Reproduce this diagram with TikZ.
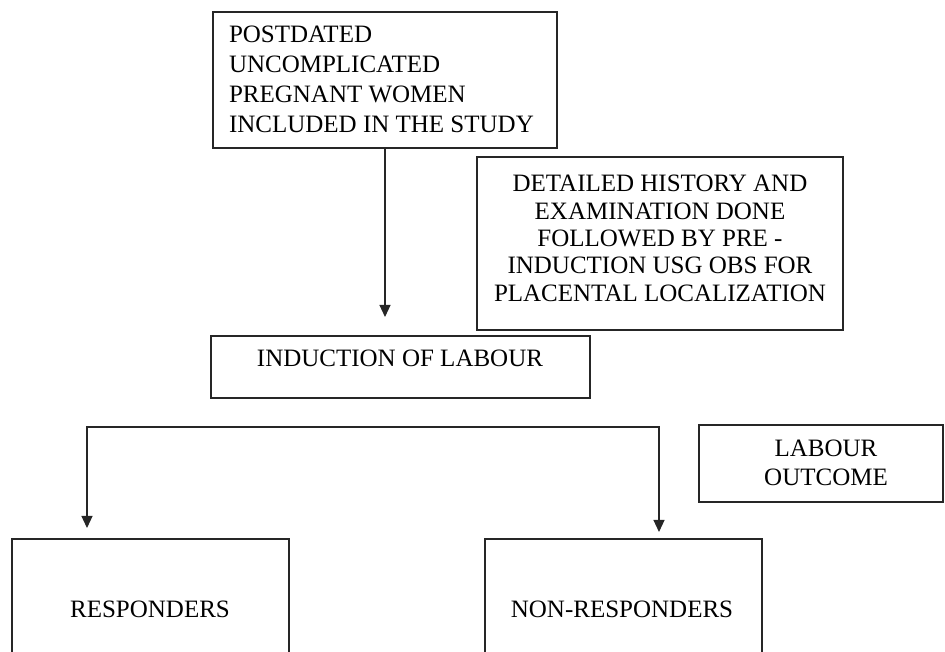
\documentclass[tikz,border=0pt]{standalone}
\usepackage{fontspec}
\setmainfont{Liberation Serif}
\usetikzlibrary{arrows.meta}
\newcommand\ctext[2]{\vtop{\baselineskip=#1\halign{\hfil##\hfil\cr#2\crcr}}}
\newcommand\ltext[2]{\vtop{\baselineskip=#1\halign{##\hfil\cr#2\crcr}}}
\tikzset{
  box/.style={draw=black!85, line width=1.2pt, inner sep=0pt, outer sep=0pt, fill=none},
  txt/.style={inner sep=0pt, outer sep=0pt, font=\fontsize{25}{29}\selectfont, text=black},
  conn/.style={draw=black!85, line width=1.2pt},
  arr/.style={conn, -{Triangle[length=12pt,width=11pt]}},
  arrs/.style={conn, {Triangle[length=12pt,width=11pt]}-{Triangle[length=12pt,width=11pt]}}
}
\begin{document}
\begin{tikzpicture}[x=1pt,y=1pt]
\useasboundingbox (0,0) rectangle (945,652);
\clip (0,0) rectangle (945,652);
% boxes
\node[box, minimum width=344pt, minimum height=136pt] (top) at (385,572) {};
\node[box, minimum width=366pt, minimum height=173pt] (det) at (660,408.5) {};
\node[box, minimum width=379pt, minimum height=62pt] (ind) at (400.5,285) {};
\node[box, minimum width=244pt, minimum height=77pt] (out) at (821,188.5) {};
\node[box, minimum width=277pt, minimum height=181pt] (resp) at (150.5,22.5) {};
\node[box, minimum width=277pt, minimum height=181pt] (nonr) at (623.5,22.5) {};
% texts
\node[txt, anchor=base west] (ttop) at (229,609) {\ltext{29.7pt}{POSTDATED\cr UNCOMPLICATED\cr PREGNANT WOMEN\cr INCLUDED IN THE STUDY}};
\node[txt, anchor=base] (tdet) at (660,460) {\ctext{27.3pt}{DETAILED HISTORY AND\cr EXAMINATION DONE\cr FOLLOWED BY PRE -\cr INDUCTION USG OBS FOR\cr PLACENTAL LOCALIZATION}};
\node[txt, anchor=base] (tind) at (400,285) {INDUCTION OF LABOUR};
\node[txt, anchor=base] (tout) at (826,195) {\ctext{29pt}{LABOUR\cr OUTCOME}};
\node[txt, anchor=base] (tresp) at (150,34) {RESPONDERS};
\node[txt, anchor=base] (tnonr) at (622,34) {NON-RESPONDERS};
% connectors
\coordinate (a1) at (385,335);
\draw[arr] (top.south -| a1) -- (a1);
\coordinate (tl) at (87,124);
\coordinate (jl) at (87,225);
\coordinate (jr) at (659,225);
\coordinate (tr) at (659,120);
\draw[arrs] (tl) -- (jl) -- (jr) -- (tr);
\end{tikzpicture}
\end{document}
